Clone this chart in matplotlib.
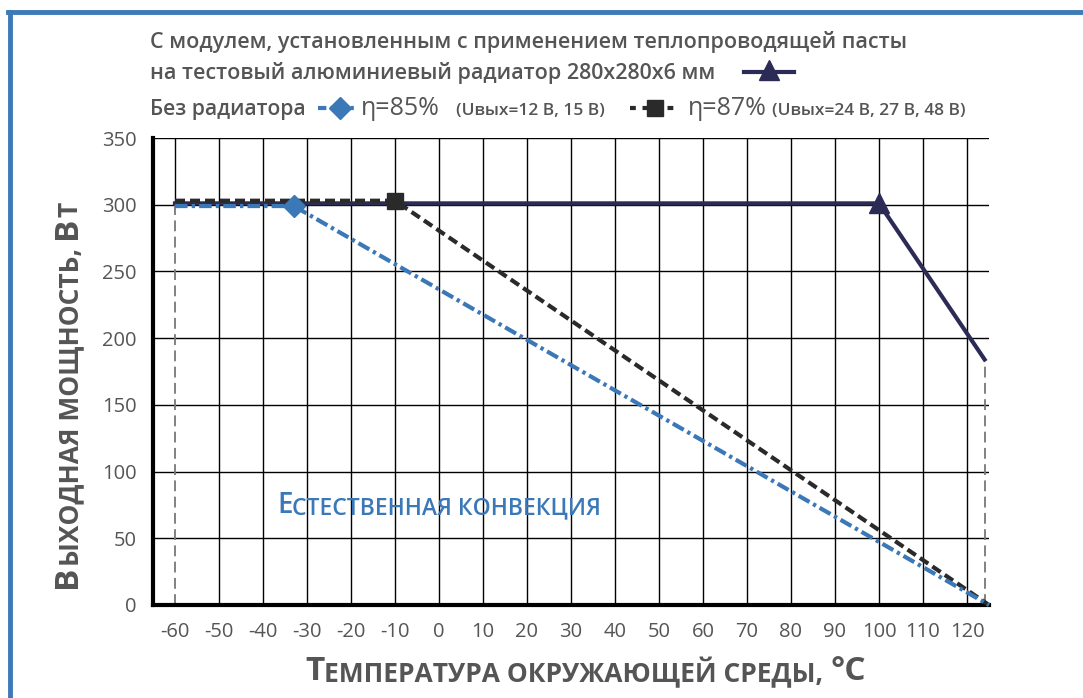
import matplotlib
matplotlib.use('Agg')
import matplotlib.pyplot as plt
from matplotlib.lines import Line2D

W, H = 1083, 698
plt.rcParams['font.family'] = ['Open Sans', 'DejaVu Sans']

# data
navy_x = [-60, 100, 124]      # with heatsink
navy_y = [301, 301, 184]
black_x = [-60, -10, 125]     # no heatsink, eta=87%
black_y = [303, 303, 0]
blue_x = [-60, -33, 125]      # no heatsink, eta=85%
blue_y = [299, 299, 0]

x_ticks = list(range(-60, 121, 10))
y_ticks = list(range(0, 351, 50))
x_labels = [str(v) for v in x_ticks]   # plain hyphen like the original

NAVY = '#2b2b55'
BLACK = '#2a2a2a'
BLUE = '#3b78b8'
GREY = '#555555'


def fx(px):
    return px / W


def fy(py):
    return 1 - py / H


fig = plt.figure(figsize=(W / 100, H / 100), dpi=100)
ax = fig.add_axes([fx(153), fy(605), (989 - 153) / W, (605 - 138) / H])
ax.set_xlim(-65, 125)
ax.set_ylim(0, 350)
ax.set_xticks(x_ticks)
ax.set_xticklabels(x_labels)
ax.set_yticks(y_ticks)
ax.grid(True, color='black', lw=1.0)
ax.set_axisbelow(True)
ax.get_xgridlines()[0].set_visible(False)
ax.vlines(x_ticks[0], navy_y[0], 350, color='black', lw=1.0, zorder=0.5)

for s in ['top', 'right']:
    ax.spines[s].set_visible(False)
for s in ['left', 'bottom']:
    ax.spines[s].set_linewidth(3)
ax.tick_params(length=0, labelsize=14.5, labelcolor=GREY)
ax.tick_params(axis='x', pad=12)
ax.tick_params(axis='y', pad=12)

# drop lines
ax.vlines([navy_x[0], navy_x[-1]], 0, [navy_y[0], navy_y[-1]],
          color='#777777', lw=1.3, linestyles=(0, (6, 3)), zorder=1)

ax.plot(navy_x, navy_y, color=NAVY, lw=3, marker='^', markevery=[1],
        ms=15, zorder=3, clip_on=False)
ax.plot(black_x, black_y, color=BLACK, lw=3, dashes=(2.4, 1.2), marker='s',
        markevery=[1], ms=11, zorder=4, clip_on=False)
ax.plot(blue_x, blue_y, color=BLUE, lw=3, dashes=(3, 1, 0.8, 1), marker='D',
        markevery=[1], ms=11, zorder=5, clip_on=False)


def caps_text(x, y, parts, color, weight='bold', rotation=0):
    # fake small caps: chain pieces of different size
    prev = None
    for s, size, gap in parts:
        kw = dict(fontsize=size, color=color, fontweight=weight, rotation=rotation)
        if prev is None:
            if rotation:
                prev = fig.text(fx(x), fy(y), s, ha='right', va='bottom', **kw)
            else:
                prev = fig.text(fx(x), fy(y), s, ha='left', va='baseline', **kw)
        else:
            if rotation:
                prev = ax.annotate(s, xy=(1, 1), xycoords=prev, xytext=(0, gap),
                                   textcoords='offset points', ha='right', va='bottom', **kw)
            else:
                prev = ax.annotate(s, xy=(1, 0), xycoords=prev, xytext=(gap, 0),
                                   textcoords='offset points', ha='left', va='bottom', **kw)


caps_text(305, 680, [('Т', 24, 0), ('ЕМПЕРАТУРА ОКРУЖАЮЩЕЙ СРЕДЫ,', 19, 0),
                     ('°С', 24, 5)], GREY)
caps_text(84, 588, [('В', 24, 0), ('ЫХОДНАЯ МОЩНОСТЬ,', 19, 0), ('В', 24, 6),
                    ('Т', 19, 0)], GREY, rotation=90)
caps_text(277, 513, [('Е', 20, 0), ('СТЕСТВЕННАЯ КОНВЕКЦИЯ', 16.5, 0)], BLUE,
          weight='semibold')

# header / legend
hdr = dict(color=GREY, fontsize=15.5, fontweight='semibold', ha='left', va='baseline')
fig.text(fx(150), fy(48), 'С модулем, установленным с применением теплопроводящей пасты', **hdr)
fig.text(fx(150), fy(79), 'на тестовый алюминиевый радиатор 280x280x6 мм', **hdr)
fig.text(fx(150), fy(115), 'Без радиатора', **{**hdr, 'fontsize': 15.2})
fig.text(fx(361), fy(115), 'η=85%', **{**hdr, 'fontsize': 18, 'fontweight': 'normal'})
fig.text(fx(456), fy(115), '(Uвых=12 В, 15 В)', **{**hdr, 'fontsize': 12.5})
fig.text(fx(688), fy(115), 'η=87%', **{**hdr, 'fontsize': 18, 'fontweight': 'normal'})
fig.text(fx(772), fy(115), '(Uвых=24 В, 27 В, 48 В)', **{**hdr, 'fontsize': 12.5})

fig.add_artist(Line2D([fx(744), fx(794)], [fy(72), fy(72)], color=NAVY, lw=3))
fig.add_artist(Line2D([fx(769)], [fy(70)], color=NAVY, marker='^', ms=15, lw=0))
fig.add_artist(Line2D([fx(318), fx(356)], [fy(108), fy(108)], color=BLUE, lw=3,
                      dashes=(2, 1, 0.8, 1)))
fig.add_artist(Line2D([fx(340)], [fy(108)], color=BLUE, marker='D', ms=11, lw=0))
fig.add_artist(Line2D([fx(630), fx(680)], [fy(108), fy(108)], color=BLACK, lw=3,
                      dashes=(1.4, 1.6)))
fig.add_artist(Line2D([fx(655)], [fy(108)], color=BLACK, marker='s', ms=11, lw=0))

# frame
fig.add_artist(Line2D([fx(10), fx(10)], [0, fy(12)], color='#3d7ab8', lw=3.5))
fig.add_artist(Line2D([fx(8.3), 1], [fy(12), fy(12)], color='#3d7ab8', lw=3.5))

fig.savefig('out.png', dpi=100)
